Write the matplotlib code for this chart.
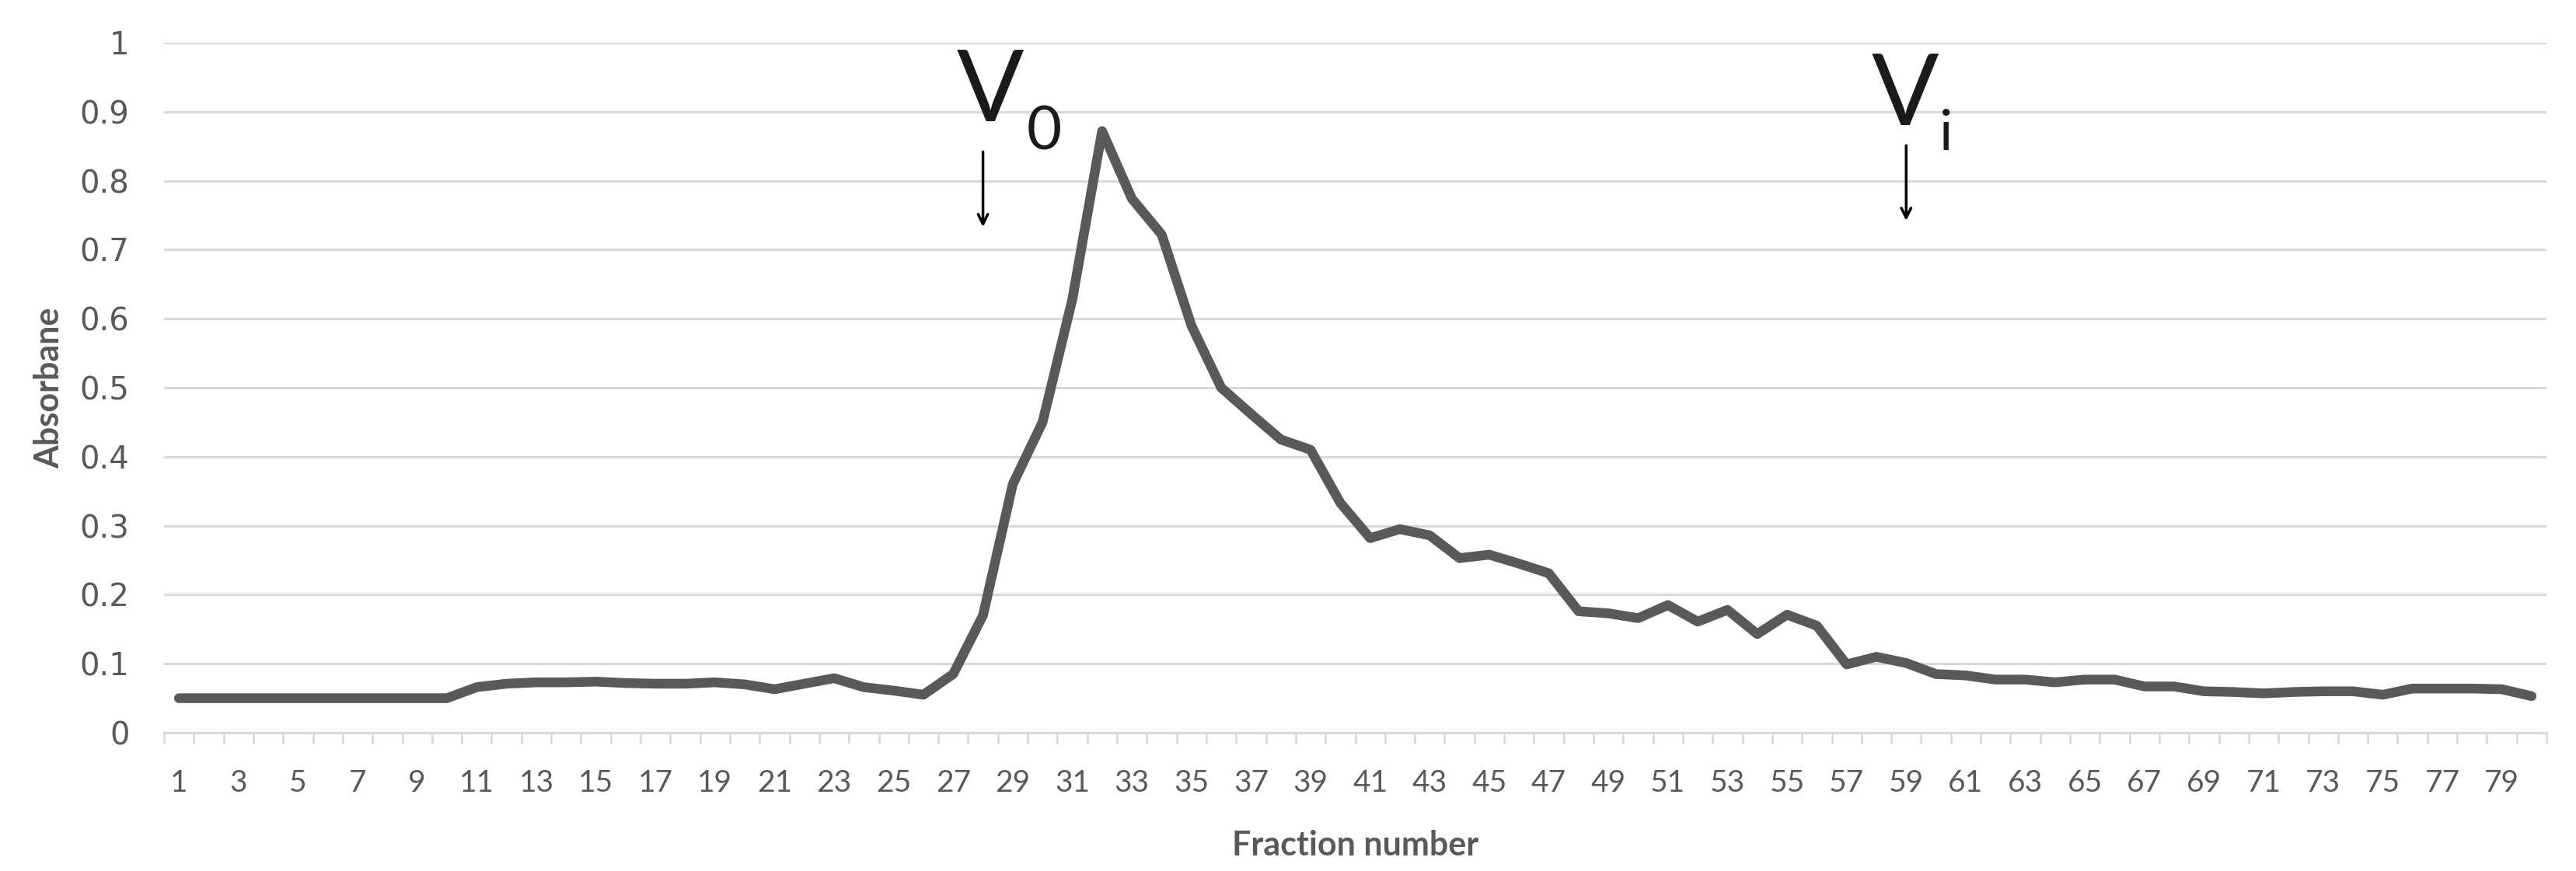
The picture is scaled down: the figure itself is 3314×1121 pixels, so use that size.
import numpy as np
import matplotlib
matplotlib.use("Agg")
import matplotlib.pyplot as plt

# DATA
fractions = list(range(1, 81))
absorbance = [
    0.050, 0.050, 0.050, 0.050, 0.050, 0.050, 0.050, 0.050, 0.050, 0.050,  # 1-10
    0.066, 0.071, 0.073, 0.073, 0.074, 0.072, 0.071, 0.071, 0.073, 0.070,  # 11-20
    0.063, 0.071, 0.079, 0.066, 0.061, 0.055, 0.085, 0.170, 0.360, 0.450,  # 21-30
    0.628, 0.872, 0.774, 0.722, 0.590, 0.500, 0.462, 0.425, 0.410, 0.333,  # 31-40
    0.282, 0.295, 0.286, 0.253, 0.258, 0.245, 0.231, 0.176, 0.173, 0.166,  # 41-50
    0.185, 0.161, 0.178, 0.143, 0.171, 0.155, 0.099, 0.110, 0.101, 0.085,  # 51-60
    0.083, 0.077, 0.077, 0.073, 0.077, 0.077, 0.067, 0.067, 0.060, 0.059,  # 61-70
    0.057, 0.059, 0.060, 0.060, 0.055, 0.064, 0.064, 0.064, 0.063, 0.053,  # 71-80
]
x_tick_labels = [str(i) for i in range(1, 81, 2)]
y_ticks = [round(0.1 * i, 1) for i in range(11)]
y_tick_labels = ["0"] + [f"{v:.1f}" for v in y_ticks[1:-1]] + ["1"]

# markers for void volume and total volume (fraction, arrow tail, arrow tip)
v0_fraction, v0_tail, v0_tip = 28, 0.842, 0.733
vi_fraction, vi_tail, vi_tip = 59, 0.851, 0.742

LINE = "#595959"
GRID = "#d9d9d9"
TXT = "#595959"

fig = plt.figure(figsize=(33.14, 11.21), dpi=100)
ax = fig.add_axes([211 / 3314, (1121 - 943) / 1121, (3276 - 211) / 3314, (943 - 55) / 1121])

ax.plot(fractions, absorbance, color=LINE, lw=9, solid_joinstyle="round",
        solid_capstyle="round", zorder=3)

ax.set_xlim(0.5, 80.5)
ax.set_ylim(0, 1)

# y axis: gridlines only
ax.set_yticks(y_ticks)
ax.set_yticklabels(y_tick_labels, family="DejaVu Sans", fontsize=29, color=TXT)
ax.tick_params(axis="y", length=0, pad=32)
ax.grid(axis="y", color=GRID, lw=2.2, zorder=0)

# x axis: labels on odd fractions, tick marks between categories
ax.set_xticks(range(1, 81, 2))
ax.set_xticklabels(x_tick_labels, family="Lato", fontsize=28, color=TXT)
ax.set_xticks(np.arange(0.5, 81, 1), minor=True)
ax.tick_params(axis="x", which="major", length=0, pad=34)
ax.tick_params(axis="x", which="minor", length=10, width=2, color=GRID)

for side in ["top", "right", "left"]:
    ax.spines[side].set_visible(False)
ax.spines["bottom"].set_color(GRID)
ax.spines["bottom"].set_linewidth(2.2)

ax.set_xlabel("Fraction number", family="Lato", fontweight="bold", fontsize=31,
              color=TXT, labelpad=30)
ax.set_ylabel("Absorbane", family="Lato", fontweight="bold", fontsize=31,
              color=TXT, labelpad=14)

# V0 / Vi annotations
arrow = dict(arrowstyle="->,head_length=0.9,head_width=0.45", lw=2.5, color="black",
             shrinkA=0, shrinkB=0)
ax.annotate("", xy=(v0_fraction, v0_tip), xytext=(v0_fraction, v0_tail), arrowprops=arrow)
ax.annotate("", xy=(vi_fraction, vi_tip), xytext=(vi_fraction, vi_tail), arrowprops=arrow)

ax.text(v0_fraction + 0.25, 0.886, "V", family="Lato", fontsize=92, color="#1a1a1a",
        ha="center", va="baseline")
ax.text(v0_fraction + 1.45, 0.845, "0", family="Lato", fontsize=56, color="#1a1a1a",
        ha="left", va="baseline")
ax.text(vi_fraction - 0.03, 0.881, "V", family="Lato", fontsize=92, color="#1a1a1a",
        ha="center", va="baseline")
ax.text(vi_fraction + 1.1, 0.845, "i", family="Lato", fontsize=52, color="#1a1a1a",
        ha="left", va="baseline")

fig.savefig("out.png", dpi=100, facecolor="white")
